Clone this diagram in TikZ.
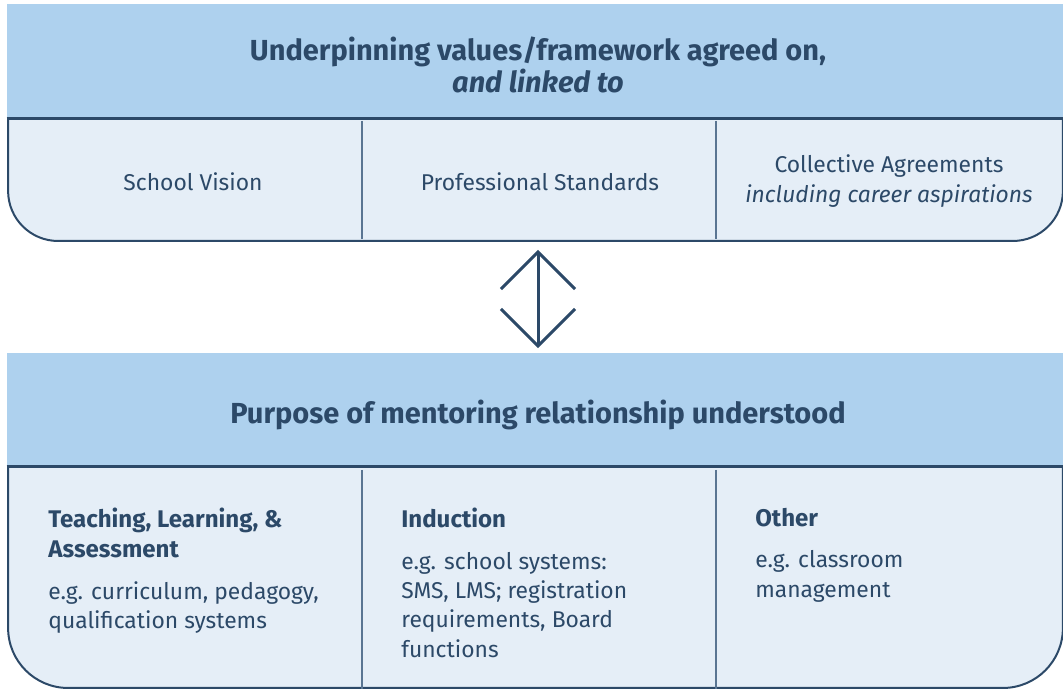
\documentclass[tikz,border=0pt]{standalone}
\usepackage{fontspec}
\setmainfont{Fira Sans}
\usetikzlibrary{positioning,arrows.meta}

\definecolor{headblue}{HTML}{AED1EE}
\definecolor{cellblue}{HTML}{E5EEF7}
\definecolor{inkblue}{HTML}{2C4968}
\definecolor{rulegrey}{HTML}{5A7592}

\tikzset{
  headbox/.style={fill=headblue, inner sep=0pt, outer sep=0pt, minimum width=21.16cm},
  titletext/.style={inner sep=0pt, text=inkblue, align=center,
    font=\fontsize{16.5}{18}\selectfont\bfseries},
  lowbox/.style={fill=cellblue, draw=inkblue, line width=0.04cm, inner sep=0pt,
    outer sep=0pt, minimum width=21.1cm},
  headrule/.style={draw=inkblue, line width=0.06cm},
  divider/.style={draw=rulegrey, line width=0.035cm},
  celltext/.style={inner sep=0pt, text=inkblue, align=center, font=\fontsize{13}{16.7}\selectfont},
  cellhead/.style={inner sep=0pt, text=inkblue, align=left, anchor=north west,
    font=\fontsize{13.7}{16.7}\selectfont\bfseries},
  cellbody/.style={inner sep=0pt, text=inkblue, align=left, font=\fontsize{13}{16.7}\selectfont},
  updown/.style={<->, >={Straight Barb[length=0.74cm,width=1.48cm]}, draw=inkblue, line width=0.06cm},
}

\begin{document}
\begin{tikzpicture}[x=0.02cm, y=-0.02cm]
    \useasboundingbox (0,0) rectangle (1063,689);

    % values and framework
    \node[lowbox, rounded corners=1cm, minimum height=3.62cm] (toplow) at (535.5,150.5) {};
    \node[headbox, minimum height=2.3cm] (tophead) at (535.5,61.5) {};
    \node[titletext] (toptitle) at (538,65)
        {Underpinning values/framework agreed on,\\ \textit{and linked to}};
    \draw[headrule] (tophead.south west) -- (tophead.south east);
    \draw[divider] (362,121) -- (362,239);
    \draw[divider] (716,121) -- (716,239);

    \node[celltext] (vision) at (193,182) {School Vision};
    \node[celltext] (standards) at (540,182) {Professional Standards};
    \node[celltext] (agreements) at (889,181) {Collective Agreements\\ \textit{including career aspirations}};

    % purpose
    \node[lowbox, rounded corners=1.2cm, minimum height=5.76cm] (botlow) at (535.5,544) {};
    \node[headbox, minimum height=2.28cm] (bothead) at (535.5,410) {};
    \node[titletext] (bottitle) at (538,415) {Purpose of mentoring relationship understood};
    \draw[headrule] (bothead.south west) -- (bothead.south east);
    \draw[divider] (362,470) -- (362,689);
    \draw[divider] (716,470) -- (716,689);

    \node[cellhead] (tlahead) at (48,508) {Teaching, Learning, \&\\ Assessment};
    \node[cellbody, below=0.46cm of tlahead.south west, anchor=north west] (tlabody)
        {e.g. curriculum, pedagogy,\\ qualification systems};
    \node[cellhead] (indhead) at (401,508) {Induction};
    \node[cellbody, below=0.46cm of indhead.south west, anchor=north west] (indbody)
        {e.g. school systems:\\ SMS, LMS; registration\\ requirements, Board\\ functions};
    \node[cellhead] (othhead) at (755,508) {Other};
    \node[cellbody, below=0.46cm of othhead.south west, anchor=north west] (othbody)
        {e.g. classroom\\ management};

    \draw[updown, shorten <=0.18cm, shorten >=0.1cm]
        ([xshift=0.05cm]toplow.south) -- ([xshift=0.05cm]bothead.north);
\end{tikzpicture}
\end{document}
